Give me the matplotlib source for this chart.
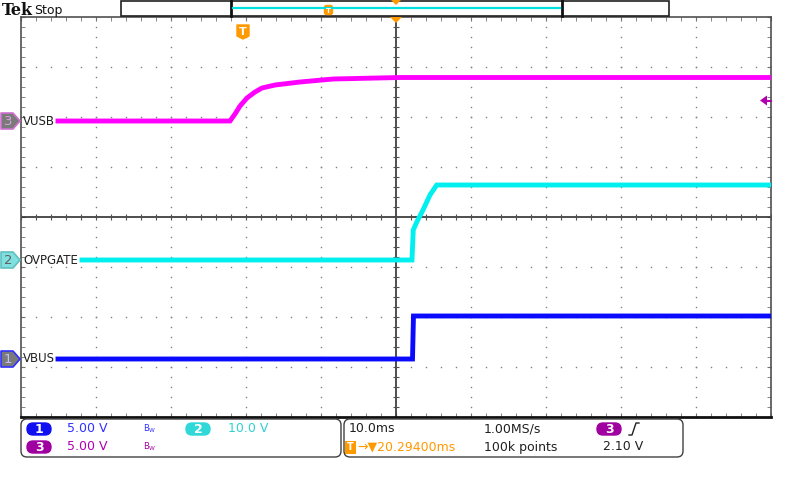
import numpy as np
import matplotlib
matplotlib.use("Agg")
import matplotlib.pyplot as plt
from matplotlib.patches import FancyBboxPatch, Polygon, Rectangle

# ---------------- data (time in ms relative to trigger, volts) ----------------
vusb_t = [-24.67, -1.73, -1.07, -0.4, 0.53, 1.6, 2.53, 4.27, 7.6, 12.0, 20.93, 70.4]
vusb_v = [0.0, 0.0, 0.7, 1.5, 2.3, 2.9, 3.3, 3.6, 3.9, 4.2, 4.35, 4.35]

ovp_t = [-21.47, 22.53, 22.7, 23.2, 24.0, 24.93, 25.83, 70.4]
ovp_v = [0.0, 0.0, 6.0, 7.7, 10.0, 13.0, 15.0, 15.0]

vbus_t = [-24.67, 22.6, 22.73, 70.4]
vbus_v = [0.0, 0.0, 4.3, 4.3]

# channel settings: volts/div and ground position (divisions from centre)
ch_scale = {"VUSB": 5.0, "OVPGATE": 10.0, "VBUS": 5.0}
ch_offset = {"VUSB": 1.92, "OVPGATE": -0.86, "VBUS": -2.84}
ch_color = {"VUSB": "#ff00ff", "OVPGATE": "#00f0f0", "VBUS": "#0a0aff"}

t_left, t_right = -29.6, 70.4     # 10 ms/div, 10 divisions
t_center = 20.4

W, H = 800, 479
fig = plt.figure(figsize=(W / 100, H / 100), dpi=100)
fig.patch.set_facecolor("white")

ax = fig.add_axes([21 / W, (H - 417) / H, 750 / W, 400 / H])
ax.set_xlim(t_left, t_right)
ax.set_ylim(-4, 4)
ax.set_facecolor("white")

# grid dots
xmaj = [t_left + 10 * k for k in range(11)]
for k in range(1, 10):
    if k == 5:
        continue
    ys = np.arange(-4, 4.001, 0.2)
    ax.plot([xmaj[k]] * len(ys), ys, ls="none", marker="s", ms=1.0, color="#808080", mew=0)
for j in range(-3, 4):
    if j == 0:
        continue
    xs = np.arange(t_left, t_right + 0.001, 2.0)
    ax.plot(xs, [j] * len(xs), ls="none", marker="s", ms=1.0, color="#808080", mew=0)

# centre lines with ticks
ax.axvline(t_center, color="#303030", lw=1.2, zorder=2)
ax.axhline(0, color="#303030", lw=1.2, zorder=2)
xs = np.arange(t_left, t_right + 0.001, 2.0)
ax.plot(xs, [0] * len(xs), ls="none", marker="|", ms=4, mew=0.8, color="#505050")
ys = np.arange(-4, 4.001, 0.2)
ax.plot([t_center] * len(ys), ys, ls="none", marker="_", ms=4, mew=0.8, color="#505050")

# spines & ticks
for s in ["top", "left", "right"]:
    ax.spines[s].set_color("#505050")
    ax.spines[s].set_linewidth(1.2)
ax.spines["bottom"].set_color("#101010")
ax.spines["bottom"].set_linewidth(2.0)
ax.set_xticks(xmaj)
ax.set_yticks(range(-4, 5))
ax.set_xticks(xs, minor=True)
ax.set_yticks(ys, minor=True)
ax.tick_params(which="both", direction="in", length=3, color="#707070",
               top=True, right=True, labelbottom=False, labelleft=False)

# traces
def draw(name, t, v):
    y = [ch_offset[name] + vv / ch_scale[name] for vv in v]
    ax.plot(t, y, color=ch_color[name], lw=3.5, solid_joinstyle="miter", zorder=5)

draw("VUSB", vusb_t, vusb_v)
draw("OVPGATE", ovp_t, ovp_v)
draw("VBUS", vbus_t, vbus_v)

# ---------------- chrome overlay in pixel coordinates ----------------
cx = fig.add_axes([0, 0, 1, 1], zorder=10)
cx.set_xlim(0, W)
cx.set_ylim(H, 0)
cx.axis("off")
cx.patch.set_alpha(0)

cx.text(2, 10, "Tek", fontsize=11.5, fontweight="bold", family="DejaVu Serif",
        va="center", ha="left", color="#111111")
cx.text(34, 10, "Stop", fontsize=9, va="center", ha="left", color="#111111")

# record bar
cx.add_patch(Rectangle((121, 1), 548, 15, fc="white", ec="#202020", lw=1.2))
cx.plot([231, 231], [1, 16], color="#101010", lw=2)
cx.plot([562, 562], [1, 16], color="#101010", lw=2)
cx.plot([233, 560], [8, 8], color="#00e0e0", lw=1.6)
cx.add_patch(FancyBboxPatch((325, 6), 7, 8, boxstyle="round,pad=0.5,rounding_size=2",
                            fc="#ff9900", ec="#ff9900"))
cx.text(328.5, 10.5, "T", fontsize=5, color="white", ha="center", va="center", fontweight="bold")
cx.add_patch(Polygon([(391, 0), (401, 0), (396, 5)], closed=True, fc="#ff9900", ec="none"))
cx.add_patch(Polygon([(390, 17), (402, 17), (396, 23)], closed=True, fc="#ff9900", ec="none"))

# trigger position marker
cx.add_patch(Polygon([(237, 25), (249, 25), (249, 36), (243, 39), (237, 36)], closed=True,
                     fc="#ff9900", ec="#ff9900", lw=1, joinstyle="round"))
cx.text(243, 31.5, "T", fontsize=8, color="white", ha="center", va="center", fontweight="bold")

# trigger level marker (right)
cx.add_patch(Polygon([(760, 100.5), (767, 95.5), (767, 105.5)], closed=True, fc="#b000b0", ec="none"))
cx.plot([766, 771], [100.5, 100.5], color="#b000b0", lw=1.5)

# channel markers + labels
def marker(y, num, fc, ec, tc):
    cx.add_patch(Polygon([(1, y - 8), (13, y - 8), (20, y), (13, y + 8), (1, y + 8)], closed=True,
                         fc=fc, ec=ec, lw=1.2, joinstyle="round"))
    cx.text(8, y + 0.5, num, fontsize=9.5, color=tc, ha="center", va="center")

marker(121, "3", "#7a7a7a", "#d070d0", "#d8a0d8")
marker(260, "2", "#80e0e0", "#60c0c0", "#606060")
marker(359, "1", "#7a7a7a", "#3030ff", "#c0c0ff")
cx.text(23, 121, "VUSB", fontsize=8.5, ha="left", va="center", color="#202020")
cx.text(23, 260, "OVPGATE", fontsize=8.5, ha="left", va="center", color="#202020")
cx.text(23, 359, "VBUS", fontsize=8.5, ha="left", va="center", color="#202020")

# bottom info boxes
cx.add_patch(FancyBboxPatch((21, 419), 320, 38, boxstyle="round,pad=0,rounding_size=6",
                            fc="white", ec="#404040", lw=1.0))
cx.add_patch(FancyBboxPatch((344, 419), 339, 38, boxstyle="round,pad=0,rounding_size=6",
                            fc="white", ec="#404040", lw=1.0))

def pill(x, y, num, color):
    cx.add_patch(FancyBboxPatch((x, y - 6), 24, 12, boxstyle="round,pad=0,rounding_size=6",
                                fc=color, ec=color))
    cx.text(x + 12, y + 0.5, num, fontsize=9, color="white", ha="center", va="center", fontweight="bold")

pill(27, 429, "1", "#1010f0")
pill(186, 429, "2", "#30d8d8")
pill(27, 447, "3", "#a000a0")
pill(597, 429, "3", "#a000a0")

cx.text(67, 429, "5.00 V", fontsize=9, color="#3030ff", ha="left", va="center")
cx.text(228, 429, "10.0 V", fontsize=9, color="#30d0d0", ha="left", va="center")
cx.text(67, 447, "5.00 V", fontsize=9, color="#b000b0", ha="left", va="center")
for yy, col in [(429, "#3030ff"), (447, "#a000a0")]:
    cx.text(143, yy, r"B$_{\mathregular{W}}$", fontsize=6, color=col, ha="left", va="center")

cx.text(349, 429, "10.0ms", fontsize=9, color="#202020", ha="left", va="center")
cx.text(484, 429, "1.00MS/s", fontsize=9, color="#202020", ha="left", va="center")
cx.plot([629, 632, 636, 639], [435, 435, 423, 423], color="#202020", lw=1.0)
cx.add_patch(Rectangle((345, 441), 11, 13, fc="#ff9900", ec="none"))
cx.text(350.5, 447.5, "T", fontsize=7, color="white", ha="center", va="center", fontweight="bold")
cx.text(357, 447, "→▼20.29400ms", fontsize=9, color="#ff9900", ha="left", va="center")
cx.text(484, 447, "100k points", fontsize=9, color="#202020", ha="left", va="center")
cx.text(603, 447, "2.10 V", fontsize=9, color="#202020", ha="left", va="center")

fig.savefig("out.png", dpi=100, facecolor="white")
